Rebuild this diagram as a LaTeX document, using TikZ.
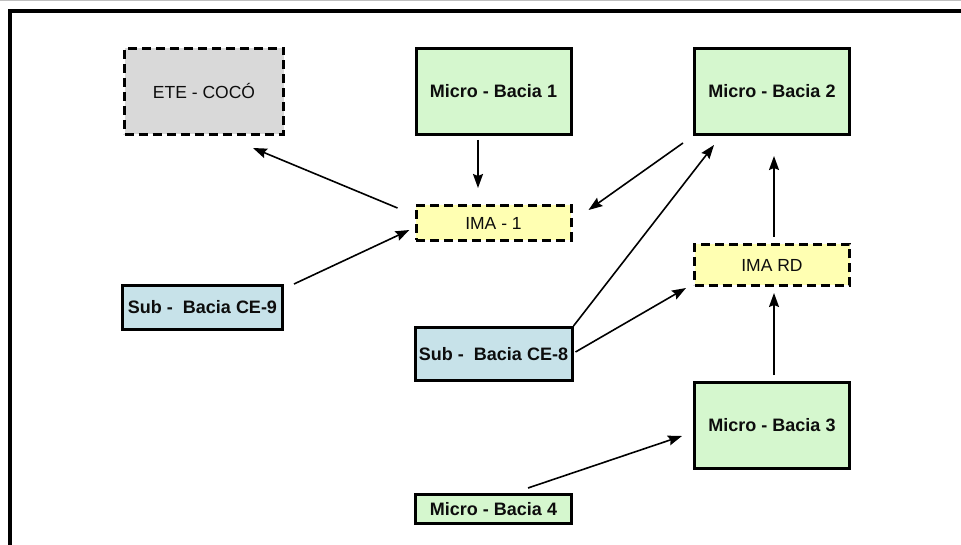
\documentclass[tikz,border=0pt]{standalone}
\usepackage{fontspec}
\setmainfont{Liberation Sans}
\usetikzlibrary{arrows.meta}
\definecolor{etegray}{RGB}{217,217,217}
\definecolor{microgreen}{RGB}{213,247,206}
\definecolor{imayellow}{RGB}{255,255,178}
\definecolor{subblue}{RGB}{199,226,233}
\tikzstyle{every picture} = [x=1pt, y=-1pt]
\tikzstyle{box} = [rectangle, draw=black, line width=3pt, inner sep=0pt, text=black!95]
\tikzstyle{dash box} = [box, dash pattern=on 9pt off 5pt]
\tikzstyle{micro} = [box, fill=microgreen, minimum width=155pt, font=\fontsize{18}{21}\selectfont\bfseries]
\tikzstyle{sub} = [box, fill=subblue, minimum width=157pt, font=\fontsize{18}{21}\selectfont\bfseries]
\tikzstyle{ima} = [dash box, fill=imayellow, minimum width=155pt, font=\fontsize{17.5}{21}\selectfont]
\tikzstyle{link} = [-{Stealth[length=14pt, width=10pt, inset=2pt]}, line width=1.6pt]

\begin{document}
\begin{tikzpicture}
	\useasboundingbox (0,0) rectangle (961,545);
	\draw[gray!50, line width=1pt] (0,1) -- (961,1);
	\draw[line width=3.5pt] (10,545) -- (10,11) -- (961,11);

	\node (ete) [dash box, fill=etegray, minimum width=159pt, minimum height=86pt, font=\fontsize{17.5}{21}\selectfont] at (204,91.5) {ETE - COCÓ};
	\node (micro 1) [micro, minimum height=86pt] at (493.5,91.5) {Micro - Bacia 1};
	\node (micro 2) [micro, minimum height=86pt] at (772,91.5) {Micro - Bacia 2};
	\node (ima 1) [ima, minimum height=35pt] at (493.5,223) {IMA - 1};
	\node (ima rd) [ima, minimum height=41pt] at (772,265) {IMA RD};
	\node (sub ce9) [sub, minimum width=160pt, minimum height=44pt] at (202.5,307.5) {Sub -\ \ Bacia CE-9};
	\node (sub ce8) [sub, minimum height=53pt] at (493.5,354) {Sub -\ \ Bacia CE-8};
	\node (micro 3) [micro, minimum height=86pt] at (772,425.5) {Micro - Bacia 3};
	\node (micro 4) [micro, minimum width=156pt, minimum height=29pt] at (493.5,509) {Micro - Bacia 4};

	\path ([shift={(-17,4)}]ima 1.north west) edge[link] ([shift={(-32,12)}]ete.south east);
	\path ([shift={(-15.5,4)}]micro 1.south) edge[link] ([shift={(-15.5,-16)}]ima 1.north);
	\path ([shift={(-10,7)}]micro 2.south west) edge[link] ([shift={(16,6)}]ima 1.north east);
	\path ([shift={(10,0)}]sub ce9.north east) edge[link] ([shift={(-5,-12)}]ima 1.south west);
	\path (sub ce8.north east) edge[link] ([shift={(21,9)}]micro 2.south west);
	\path ([shift={(2,-2)}]sub ce8.east) edge[link] ([shift={(-7,1)}]ima rd.south west);
	\path ([shift={(2,-6)}]micro 3.north) edge[link] ([shift={(2,6)}]ima rd.south);
	\path ([shift={(2,-6)}]ima rd.north) edge[link] ([shift={(2,20)}]micro 2.south);
	\path ([shift={(34.5,-5)}]micro 4.north) edge[link] ([shift={(-11,10.5)}]micro 3.west);
\end{tikzpicture}
\end{document}
